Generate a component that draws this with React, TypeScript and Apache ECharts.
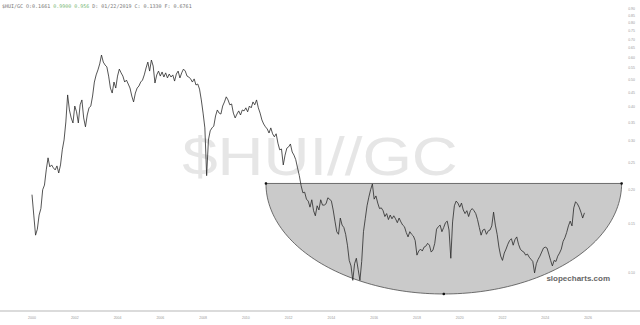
import React, { useEffect, useRef } from "react";
import * as echarts from "echarts";

// Monthly $HUI/GC ratio (Jan..Dec of each year)
const r2000 = [0.192, 0.162, 0.137, 0.144, 0.162, 0.171, 0.200, 0.208, 0.236, 0.261, 0.242, 0.246];
const r2001 = [0.240, 0.236, 0.244, 0.230, 0.246, 0.279, 0.303, 0.352, 0.441, 0.389, 0.364, 0.349];
const r2002 = [0.402, 0.383, 0.349, 0.406, 0.423, 0.364, 0.338, 0.373, 0.396, 0.402, 0.437, 0.491];
const r2003 = [0.521, 0.543, 0.571, 0.615, 0.580, 0.566, 0.557, 0.516, 0.467, 0.448, 0.491, 0.467];
const r2004 = [0.516, 0.547, 0.530, 0.516, 0.491, 0.499, 0.483, 0.467, 0.437, 0.416, 0.448, 0.467];
const r2005 = [0.475, 0.491, 0.499, 0.521, 0.552, 0.580, 0.538, 0.590, 0.561, 0.487, 0.521, 0.538];
const r2006 = [0.516, 0.534, 0.512, 0.530, 0.508, 0.525, 0.512, 0.521, 0.495, 0.525, 0.538, 0.508];
const r2007 = [0.530, 0.547, 0.538, 0.516, 0.512, 0.504, 0.491, 0.504, 0.479, 0.483, 0.463, 0.423];
const r2008 = [0.379, 0.335, 0.225, 0.303, 0.327, 0.335, 0.340, 0.370, 0.389, 0.379, 0.376, 0.402];
const r2009 = [0.416, 0.434, 0.423, 0.406, 0.409, 0.379, 0.364, 0.376, 0.386, 0.373, 0.389, 0.386];
const r2010 = [0.396, 0.383, 0.402, 0.396, 0.416, 0.406, 0.423, 0.396, 0.379, 0.358, 0.346, 0.338];
const r2011 = [0.332, 0.321, 0.335, 0.319, 0.311, 0.319, 0.295, 0.279, 0.281, 0.246, 0.267, 0.283];
const r2012 = [0.286, 0.293, 0.274, 0.267, 0.257, 0.240, 0.225, 0.207, 0.195, 0.196, 0.185, 0.182];
const r2013 = [0.173, 0.184, 0.168, 0.161, 0.175, 0.169, 0.184, 0.176, 0.176, 0.178, 0.187, 0.185];
const r2014 = [0.182, 0.169, 0.154, 0.141, 0.138, 0.158, 0.149, 0.146, 0.138, 0.126, 0.111, 0.106];
const r2015 = [0.094, 0.108, 0.113, 0.103, 0.094, 0.110, 0.141, 0.157, 0.175, 0.188, 0.200, 0.210];
const r2016 = [0.185, 0.190, 0.179, 0.171, 0.172, 0.168, 0.160, 0.164, 0.156, 0.162, 0.157, 0.161];
const r2017 = [0.157, 0.152, 0.158, 0.153, 0.149, 0.147, 0.140, 0.135, 0.141, 0.138, 0.136, 0.131];
const r2018 = [0.116, 0.120, 0.122, 0.120, 0.124, 0.125, 0.128, 0.126, 0.119, 0.121, 0.128, 0.144];
const r2019 = [0.147, 0.149, 0.141, 0.146, 0.152, 0.154, 0.143, 0.113, 0.153, 0.175, 0.182, 0.179];
const r2020 = [0.173, 0.179, 0.169, 0.164, 0.168, 0.160, 0.168, 0.171, 0.168, 0.164, 0.156, 0.146];
const r2021 = [0.137, 0.143, 0.144, 0.138, 0.142, 0.143, 0.148, 0.166, 0.149, 0.138, 0.124, 0.115];
const r2022 = [0.111, 0.118, 0.122, 0.127, 0.131, 0.133, 0.126, 0.132, 0.135, 0.127, 0.122, 0.120];
const r2023 = [0.119, 0.116, 0.117, 0.114, 0.112, 0.110, 0.100, 0.108, 0.112, 0.115, 0.119, 0.123];
const r2024 = [0.124, 0.123, 0.117, 0.111, 0.106, 0.111, 0.110, 0.115, 0.118, 0.122, 0.130, 0.134];
const r2025 = [0.140, 0.148, 0.154, 0.148, 0.172, 0.181, 0.178, 0.173, 0.166, 0.158, 0.165];

const years = [2000, 2001, 2002, 2003, 2004, 2005, 2006, 2007, 2008, 2009, 2010, 2011, 2012,
  2013, 2014, 2015, 2016, 2017, 2018, 2019, 2020, 2021, 2022, 2023, 2024, 2025];
const yearly = [r2000, r2001, r2002, r2003, r2004, r2005, r2006, r2007, r2008, r2009, r2010, r2011, r2012,
  r2013, r2014, r2015, r2016, r2017, r2018, r2019, r2020, r2021, r2022, r2023, r2024, r2025];

const xTickYears = [2000, 2002, 2004, 2006, 2008, 2010, 2012, 2014, 2016, 2018, 2020, 2022, 2024, 2026];
const yTickValues = [0.10, 0.15, 0.20, 0.25, 0.30, 0.35, 0.40, 0.45, 0.50, 0.55, 0.60, 0.65, 0.70, 0.75, 0.80, 0.85, 0.90];

const xMin = 1998.504;
const xMax = 2028.43;
const yMin = 0.0728;
const yMax = 0.973;

// rounding-bottom (bowl) annotation
const bowlStart = 2010.94;
const bowlEnd = 2027.57;
const bowlRim = 0.2108;
const bowlBottom = 0.0839;

const headerLeft = "$HUI/GC O:0.1661 ";
const headerGreen = "0.9900 0.956 ";
const headerRight = "D: 01/22/2019 C: 0.1330 F: 0.6761";
const watermark = "$HUI//GC";
const brand = "slopecharts.com";

export default function App() {
  const ref = useRef<HTMLDivElement>(null);

  useEffect(() => {
    if (!ref.current) return;
    const chart = echarts.init(ref.current, undefined, { renderer: "svg" });

    const lineData: number[][] = [];
    years.forEach((y, i) => {
      yearly[i].forEach((v, m) => lineData.push([y + m / 12, Math.log(v)]));
    });

    const option: any = {
      animation: false,
      grid: { left: 0, right: 0, top: 0, bottom: 14 },
      xAxis: {
        type: "value",
        min: xMin,
        max: xMax,
        axisLine: { show: true, lineStyle: { color: "#cfcfcf", width: 1.5 } },
        axisTick: { show: false },
        splitLine: { show: false },
        axisLabel: {
          customValues: xTickYears,
          formatter: (v: number) => String(Math.round(v)),
          fontSize: 3.5,
          color: "#999",
          margin: 5,
          fontFamily: "Liberation Sans",
        },
      },
      yAxis: {
        type: "value",
        position: "right",
        min: Math.log(yMin),
        max: Math.log(yMax),
        axisLine: { show: false },
        axisTick: { show: false },
        splitLine: { show: false },
        axisLabel: {
          inside: true,
          customValues: yTickValues.map((v) => Math.log(v)),
          formatter: (v: number) => Math.exp(v).toFixed(2),
          fontSize: 3.5,
          color: "#999",
          margin: 5,
          fontFamily: "Liberation Sans",
        },
      },
      graphic: [
        {
          type: "text",
          x: 320,
          y: 156,
          scaleX: 1.2,
          z: -10,
          silent: true,
          style: {
            text: watermark,
            font: '53px "Liberation Sans"',
            fill: "#e6e6e6",
            textAlign: "center",
            textVerticalAlign: "middle",
          },
        },
        {
          type: "text",
          x: 2,
          y: 3,
          z: 100,
          style: {
            text: "{a|" + headerLeft + "}{b|" + headerGreen + "}{a|" + headerRight + "}",
            font: '5px "DejaVu Sans Mono"',
            textVerticalAlign: "top",
            rich: {
              a: { fill: "#777", fontSize: 5, fontFamily: "DejaVu Sans Mono" },
              b: { fill: "#79b879", fontSize: 5, fontFamily: "DejaVu Sans Mono" },
            },
          },
        },
        {
          type: "text",
          x: 610,
          y: 278,
          z: 100,
          style: {
            text: brand,
            font: 'bold 8px "Liberation Sans"',
            fill: "#666",
            textAlign: "right",
            textVerticalAlign: "middle",
          },
        },
      ],
      series: [
        {
          type: "custom",
          z: 1,
          clip: false,
          silent: true,
          encode: { x: [0, 1], y: [2, 3] },
          data: [[bowlStart, bowlEnd, Math.log(bowlRim), Math.log(bowlBottom)]],
          renderItem: (params: any, api: any) => {
            const p1 = api.coord([api.value(0), api.value(2)]);
            const p2 = api.coord([api.value(1), api.value(2)]);
            const pb = api.coord([(api.value(0) + api.value(1)) / 2, api.value(3)]);
            const cx = (p1[0] + p2[0]) / 2;
            const cy = p1[1];
            const rx = (p2[0] - p1[0]) / 2;
            const ry = pb[1] - cy;
            const pts: number[][] = [];
            for (let i = 0; i <= 120; i++) {
              const a = (Math.PI * i) / 120;
              pts.push([cx + rx * Math.cos(a), cy + ry * Math.sin(a)]);
            }
            return {
              type: "group",
              children: [
                {
                  type: "polygon",
                  shape: { points: pts },
                  style: { fill: "#cacaca", stroke: "#4d4d4d", lineWidth: 0.8 },
                },
                { type: "circle", shape: { cx: p1[0], cy: p1[1], r: 1.3 }, style: { fill: "#111" } },
                { type: "circle", shape: { cx: p2[0], cy: p2[1], r: 1.3 }, style: { fill: "#111" } },
                { type: "circle", shape: { cx: cx, cy: pb[1], r: 1.3 }, style: { fill: "#111" } },
              ],
            };
          },
        },
        {
          type: "line",
          z: 5,
          data: lineData,
          showSymbol: false,
          symbol: "none",
          lineStyle: { color: "#2a2a2a", width: 0.8 },
        },
      ],
    };

    chart.setOption(option);
    return () => chart.dispose();
  }, []);

  return (
    <div
      ref={ref}
      style={{ position: "fixed", left: 0, top: 0, width: 640, height: 325, background: "#fff" }}
    />
  );
}
